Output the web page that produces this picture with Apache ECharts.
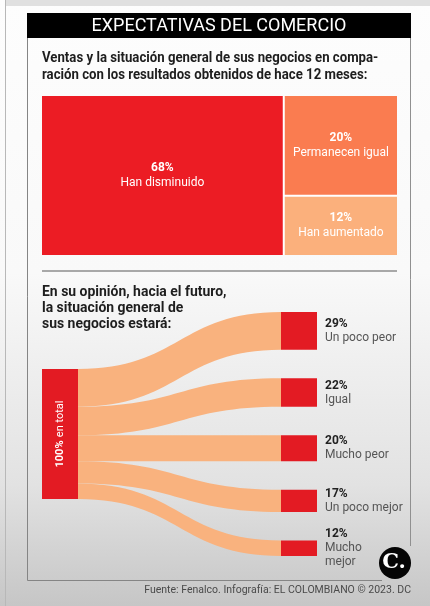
<!DOCTYPE html>
<html><head><meta charset="utf-8">
<script src="https://cdn.jsdelivr.net/npm/echarts@6/dist/echarts.min.js"></script>
<style>html,body{margin:0;padding:0;background:#fff}#c{width:430px;height:606px}</style>
</head><body><div id="c"></div>
<script>
const titleText = 'EXPECTATIVAS DEL COMERCIO';
const subtitleLines = ['Ventas y la situación general de sus negocios en compa-', 'ración con los resultados obtenidos de hace 12 meses:'];
const treemapNames = ['Han disminuido', 'Permanecen igual', 'Han aumentado'];
const treemapValues = [68, 20, 12];
const treemapColors = ['#ec1c24', '#fa7c50', '#fbb07c'];
const sankeyHeading = ['En su opinión, hacia el futuro,', 'la situación general de', 'sus negocios estará:'];
const sourceName = 'en total';
const sourceValue = 100;
const targetNames = ['Un poco peor', 'Igual', 'Mucho peor', 'Un poco mejor', 'Mucho mejor'];
const targetLabels = ['Un poco peor', 'Igual', 'Mucho peor', 'Un poco mejor', 'Mucho\nmejor'];
const targetValues = [29, 22, 20, 17, 12];
const footerText = 'Fuente: Fenalco. Infografía: EL COLOMBIANO © 2023. DC';

const chart = echarts.init(document.getElementById('c'), null, {width: 430, height: 606});
const F = 'Roboto, "Noto Sans", sans-serif';
const LABEL_LH = 15;

function treeData(pads) {
  return treemapNames.map((n, i) => {
    const item = {name: n, value: treemapValues[i], itemStyle: {color: treemapColors[i]}};
    if (pads && pads[n] != null) item.label = {padding: [Math.max(0, (pads[n] - 2 * LABEL_LH) / 2), 0, 0, 0]};
    return item;
  });
}
const nodes = [{name: sourceName, value: sourceValue, localY: 0.2336,
  label: {position: 'inside', rotate: 90, distance: 0,
    formatter: () => '{p|' + sourceValue + '%} {w|' + sourceName + '}',
    rich: {p: {fontFamily: F, fontWeight: 'bold', fontSize: 11, color: '#fff'}, w: {fontFamily: F, fontSize: 11, color: '#fff'}}}}]
  .concat(targetNames.map((n, i) => ({name: n, value: targetValues[i]})));
const links = targetNames.map((n, i) => ({source: sourceName, target: n, value: targetValues[i]}));

const g = [];
g.push({type: 'rect', z: -10, shape: {x: 0, y: 0, width: 430, height: 606}, silent: true,
  style: {fill: new echarts.graphic.LinearGradient(0, 0, 0, 1, [
    {offset: 0, color: '#fdfdfd'}, {offset: 0.45, color: '#f9f9f9'}, {offset: 0.8, color: '#e2e2e2'}, {offset: 1, color: '#c6c6c6'}])}});
g.push({type: 'rect', z: -9, shape: {x: 5, y: 0, width: 425, height: 6}, style: {fill: '#e0e0e0'}});
g.push({type: 'line', z: -9, shape: {x1: 5.5, y1: 0, x2: 5.5, y2: 606}, style: {stroke: '#b8b8b8', lineWidth: 1}});
g.push({type: 'polyline', z: -8, shape: {points: [[27.5, 13], [27.5, 580.5], [382, 580.5]]}, style: {stroke: '#858585', lineWidth: 1, fill: null}});
g.push({type: 'line', z: -8, shape: {x1: 410.5, y1: 13, x2: 410.5, y2: 546}, style: {stroke: '#909090', lineWidth: 1}});
g.push({type: 'rect', z: -7, shape: {x: 27, y: 13, width: 384, height: 25}, style: {fill: '#000'}});
g.push({type: 'text', x: 219, y: 26, style: {text: titleText, font: '18px ' + F, fill: '#fff', align: 'center', verticalAlign: 'middle'}});
subtitleLines.forEach((t, i) => g.push({type: 'text', x: 42, y: 58.5 + i * 17, scaleX: 0.88,
  style: {text: t, font: 'bold 15px ' + F, fill: '#1e1e1e', align: 'left', verticalAlign: 'middle'}}));
g.push({type: 'line', shape: {x1: 42, y1: 271, x2: 397, y2: 271}, style: {stroke: '#8c8c8c', lineWidth: 1.5}});
sankeyHeading.forEach((t, i) => g.push({type: 'text', x: 42, y: 292 + i * 16, scaleX: 0.93,
  style: {text: t, font: 'bold 15px ' + F, fill: '#1e1e1e', align: 'left', verticalAlign: 'middle'}}));
g.push({type: 'text', x: 411, y: 590.5, style: {text: footerText, font: '10.5px ' + F, fill: '#4a4a4a', align: 'right', verticalAlign: 'middle'}});
g.push({type: 'circle', z: 100, shape: {cx: 395, cy: 563, r: 16}, style: {fill: '#050505'}});
g.push({type: 'text', z: 101, x: 394, y: 563, style: {text: 'C.', font: 'bold 21px "DejaVu Serif", serif', fill: '#fff', align: 'center', verticalAlign: 'middle'}});

function buildOption(pads) {
  return {
    animation: false,
    graphic: g,
    series: [{
      type: 'treemap',
      left: 42, top: 96, width: 355, height: 159,
      roam: false, nodeClick: false,
      breadcrumb: {show: false},
      itemStyle: {borderWidth: 0, gapWidth: 2, borderColor: '#fff'},
      levels: [{itemStyle: {borderWidth: 0, gapWidth: 2, borderColor: '#fff'}}],
      label: {show: true, position: 'inside', align: 'center', verticalAlign: 'middle',
        formatter: p => '{p|' + p.value + '%}\n{n|' + p.name + '}',
        rich: {p: {fontFamily: F, fontWeight: 'bold', fontSize: 12, color: '#fff', lineHeight: LABEL_LH, align: 'center'},
               n: {fontFamily: F, fontSize: 12, color: '#fff', lineHeight: LABEL_LH, align: 'center'}}},
      upperLabel: {show: false},
      emphasis: {disabled: true},
      data: treeData(pads)
    }, {
      type: 'sankey',
      left: 42, top: 312, right: 113, bottom: 50,
      nodeWidth: 36, nodeGap: 28.5,
      draggable: false,
      emphasis: {disabled: true},
      itemStyle: {color: '#e31b23', borderWidth: 0},
      lineStyle: {color: '#f9b27e', opacity: 1, curveness: 0.5},
      label: {position: 'right', distance: 8,
        formatter: p => '{p|' + p.value + '%}\n{n|' + targetLabels[targetNames.indexOf(p.name)] + '}',
        rich: {p: {fontFamily: F, fontWeight: 'bold', fontSize: 12, color: '#222', lineHeight: 14},
               n: {fontFamily: F, fontSize: 12, color: '#555', lineHeight: 14}}},
      data: nodes,
      links: links
    }]
  };
}
chart.setOption(buildOption(null));
// center treemap labels vertically using the library's own layout of each rectangle
const pads = {};
try {
  const d = chart.getModel().getSeriesByIndex(0).getData();
  d.each(idx => { const l = d.getItemLayout(idx); if (l) pads[d.getName(idx)] = l.height; });
} catch (e) {}
chart.setOption(buildOption(pads));
</script></body></html>
